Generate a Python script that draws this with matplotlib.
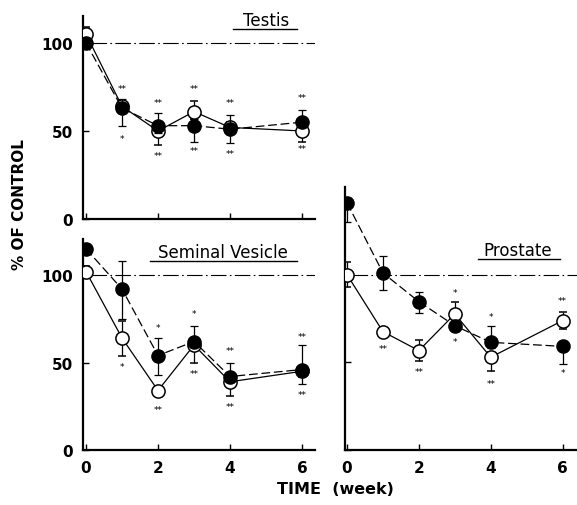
import numpy as np
import matplotlib
matplotlib.use("Agg")
import matplotlib.pyplot as plt
from matplotlib.lines import Line2D

weeks = [0, 1, 2, 3, 4, 6]

# testis
testis_open = [105, 64, 50, 61, 52, 50]
testis_open_lo = [3, 3, 8, 4, 3, 6]
testis_open_hi = [4, 3, 3, 6, 3, 3]
testis_fill = [100, 63, 53, 53, 51, 55]
testis_fill_lo = [3, 10, 4, 9, 8, 3]
testis_fill_hi = [3, 5, 7, 4, 8, 7]
testis_stars = [("**", 1, 74), ("*", 1, 46), ("**", 2, 66), ("**", 2, 36),
                ("**", 3, 74), ("**", 3, 39), ("**", 4, 66), ("**", 4, 37),
                ("**", 6, 69), ("**", 6, 40)]

# seminal vesicle
sv_open = [102, 64, 34, 60, 39, 45]
sv_open_lo = [3, 10, 0, 10, 8, 3]
sv_open_hi = [3, 10, 0, 3, 3, 3]
sv_fill = [115, 92, 54, 62, 42, 46]
sv_fill_lo = [3, 17, 11, 3, 3, 8]
sv_fill_hi = [3, 16, 10, 9, 8, 14]
sv_stars = [("*", 1, 48), ("*", 2, 70), ("**", 2, 23), ("*", 3, 78), ("**", 3, 44),
            ("**", 4, 57), ("**", 4, 25), ("**", 6, 65), ("**", 6, 32)]

# prostate
pr_open = [100, 67.5, 56.7, 77.6, 52.9, 73.8]
pr_open_lo = [7, 2, 6, 3, 8, 5]
pr_open_hi = [7, 2, 6, 7, 3, 5]
pr_fill = [141, 101, 84.6, 70.9, 61.4, 59.1]
pr_fill_lo = [11, 9.5, 6.5, 3, 3, 10]
pr_fill_hi = [3, 9.5, 5.7, 3, 9.5, 3]
pr_stars = [("**", 1, 58), ("**", 2, 45), ("*", 3, 90), ("*", 3, 62),
            ("*", 4, 76), ("**", 4, 38), ("**", 6, 85), ("*", 6, 44)]

W, H = 577, 506
fig = plt.figure(figsize=(W / 100, H / 100), dpi=100)
plt.rcParams['font.family'] = 'DejaVu Sans'


def px_axes(l, t, r, b):
    return fig.add_axes([l / W, 1 - b / H, (r - l) / W, (b - t) / H])


def panel(ax, op, op_lo, op_hi, fl, fl_lo, fl_hi, stars, xlim, ytop, ylabels, xlabels):
    ax.set_xlim(*xlim)
    ax.set_ylim(0, ytop)
    ax.hlines(100, 0.15, xlim[1], colors="k", lw=0.8, linestyles=[(0, (14, 3, 1.5, 3))])
    ax.errorbar(weeks, op, yerr=[op_lo, op_hi], fmt="-", color="k", lw=0.9,
                marker="o", ms=9.5, mfc="white", mec="k", mew=1.1,
                capsize=3, elinewidth=0.9, capthick=0.9, zorder=3)
    ax.errorbar(weeks, fl, yerr=[fl_lo, fl_hi], fmt="-", color="k", lw=0.9,
                ls=(0, (7, 3)), marker="o", ms=9.5, mfc="k", mec="k",
                capsize=3, elinewidth=0.9, capthick=0.9, zorder=4)
    for s, x, y in stars:
        ax.text(x, y, s, fontsize=6.5, ha="center", va="center")
    for side in ["top", "right"]:
        ax.spines[side].set_visible(False)
    ax.spines["left"].set_linewidth(1.6)
    ax.spines["bottom"].set_linewidth(1.6)
    ax.set_yticks([0, 50, 100])
    ax.set_xticks([0, 2, 4, 6])
    ax.tick_params(direction="in", length=4, width=1, pad=7)
    if ylabels:
        ax.set_yticklabels(["0", "50", "100"], fontsize=11, fontweight="bold")
    else:
        ax.set_yticklabels([])
    if xlabels:
        ax.set_xticklabels(["0", "2", "4", "6"], fontsize=11, fontweight="bold")
    else:
        ax.set_xticklabels([])


ax1 = px_axes(83, 17, 315, 220)
panel(ax1, testis_open, testis_open_lo, testis_open_hi, testis_fill, testis_fill_lo,
      testis_fill_hi, testis_stars, (-0.083, 6.36), 115.3, True, False)

ax2 = px_axes(83, 240, 315, 451)
panel(ax2, sv_open, sv_open_lo, sv_open_hi, sv_fill, sv_fill_lo, sv_fill_hi,
      sv_stars, (-0.083, 6.36), 120.6, True, True)

ax3 = px_axes(345, 188, 577, 451)
panel(ax3, pr_open, pr_open_lo, pr_open_hi, pr_fill, pr_fill_lo, pr_fill_hi,
      pr_stars, (-0.056, 6.4), 150, False, True)


# underlined panel titles
def title(text, cx, base, ul_l, ul_r, ul_y):
    fig.text(cx / W, 1 - base / H, text, fontsize=12, ha="center", va="baseline")
    fig.add_artist(Line2D([ul_l / W, ul_r / W], [1 - ul_y / H, 1 - ul_y / H],
                          color="k", lw=1.0))


title("Testis", 266, 26, 233, 297, 30)
title("Seminal Vesicle", 223, 258, 150, 297, 262)
title("Prostate", 518, 256, 478, 560, 260)

fig.text(20 / W, 1 - 205 / H, "% OF CONTROL", rotation=90, fontsize=11,
         fontweight="bold", ha="center", va="center")
fig.text(335 / W, 1 - 490 / H, "TIME  (week)", fontsize=11.5,
         fontweight="bold", ha="center", va="center")

fig.savefig("out.png", dpi=100)
